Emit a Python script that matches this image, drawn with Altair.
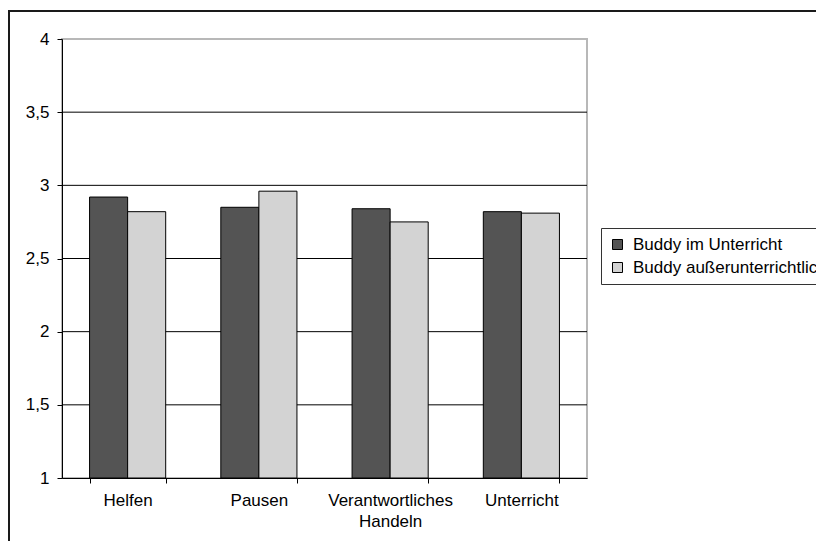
import altair as alt
import pandas as pd

categories = ["Helfen", "Pausen", "Verantwortliches Handeln", "Unterricht"]
series = ["Buddy im Unterricht", "Buddy außerunterrichtlich"]
im_unterricht = [2.92, 2.85, 2.84, 2.82]
ausserunterrichtlich = [2.82, 2.96, 2.75, 2.81]
grid_values = [1.5, 2.0, 2.5, 3.0, 3.5]
y_ticks = [1, 1.5, 2, 2.5, 3, 3.5, 4]
colors = ["#545454", "#d3d3d3"]

rows = []
for c, a, b in zip(categories, im_unterricht, ausserunterrichtlich):
    rows.append({"Kategorie": c, "Gruppe": series[0], "Wert": a})
    rows.append({"Kategorie": c, "Gruppe": series[1], "Wert": b})
df = pd.DataFrame(rows)

FONT = "Liberation Sans"
FS = 17

yscale = alt.Scale(domain=[1, 4], zero=False, nice=False)
yaxis = alt.Axis(
    values=y_ticks, title=None, grid=False, domainColor="black",
    tickColor="black", tickSize=5, labelFontSize=FS, labelFont=FONT,
    labelColor="black", labelPadding=8,
    labelExpr="replace(toString(datum.value), '.', ',')",
)

grid = alt.Chart(pd.DataFrame({"v": grid_values})).mark_rule(
    color="black", strokeWidth=1
).encode(y=alt.Y("v:Q", scale=yscale, axis=yaxis))

bars = alt.Chart(df).mark_bar(stroke="black", strokeWidth=1).encode(
    x=alt.X(
        "Kategorie:N",
        sort=categories,
        scale=alt.Scale(paddingInner=0.42, paddingOuter=0.21),
        axis=alt.Axis(
            title=None, labelAngle=0, domainColor="black", tickColor="black",
            tickSize=5, tickBand="extent", labelFontSize=FS, labelFont=FONT,
            labelColor="black", labelPadding=9, labelLineHeight=21,
            labelExpr="length(datum.label) > 12 ? split(datum.label, ' ') : datum.label",
        ),
    ),
    xOffset=alt.XOffset("Gruppe:N", sort=series,
                        scale=alt.Scale(paddingInner=0, paddingOuter=0)),
    y=alt.Y("Wert:Q", scale=yscale, axis=yaxis),
    y2=alt.datum(1),
    color=alt.Color(
        "Gruppe:N", sort=series,
        scale=alt.Scale(domain=series, range=colors),
        legend=alt.Legend(
            title=None, orient="none", legendX=539, legendY=189,
            symbolType="square", symbolSize=100, symbolStrokeColor="black",
            symbolStrokeWidth=1, symbolOpacity=1, labelFontSize=FS,
            labelFont=FONT, labelColor="black", labelLimit=500,
            strokeColor="#333333", fillColor="white", padding=8,
            rowPadding=5, labelOffset=7,
        ),
    ),
)

frame_top = alt.Chart(pd.DataFrame({"a": [0]})).mark_rule(
    color="#1a1a1a", strokeWidth=2
).encode(x=alt.value(-54), x2=alt.value(2000), y=alt.value(-28))

frame_left = alt.Chart(pd.DataFrame({"a": [0]})).mark_rule(
    color="#1a1a1a", strokeWidth=2
).encode(x=alt.value(-53), y=alt.value(-29), y2=alt.value(2000))

chart = alt.layer(grid, bars, frame_top, frame_left).properties(
    width=525,
    height=439,
    padding={"left": 54, "top": 31, "right": 229, "bottom": 63},
    autosize=alt.AutoSizeParams(type="none"),
    background="white",
).configure_view(stroke="#b8b8b8", strokeWidth=2)

chart.save("out.html", embed_options={"renderer": "svg", "actions": False})
